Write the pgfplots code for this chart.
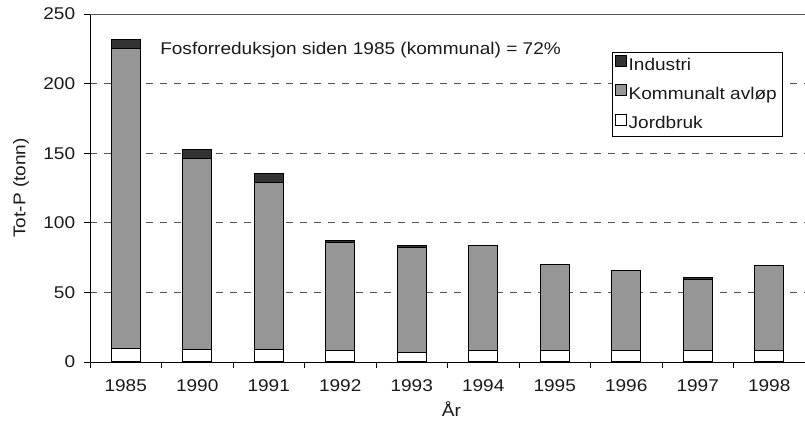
\documentclass[border=0pt]{standalone}
\usepackage{fontspec}
\setmainfont{Liberation Sans}[FakeStretch=1.12]
\usepackage{pgfplots}
\pgfplotsset{compat=1.18}
\definecolor{txt}{HTML}{1A1A1A}
\definecolor{ind}{HTML}{333333}
\definecolor{kom}{HTML}{969696}
\definecolor{gridc}{HTML}{555555}
\begin{document}
\fontsize{17}{20}\selectfont
\begin{tikzpicture}[x=1pt,y=1pt]
\useasboundingbox (-90,-79) rectangle (715,362);
\begin{axis}[
  at={(0,0)}, anchor=south west,
  scale only axis, width=715pt, height=348pt,
  ybar stacked, bar width=0.41,
  xmin=-0.5, xmax=9.5, ymin=0, ymax=250,
  axis x line*=bottom, axis y line*=left,
  axis line style={line width=0.8pt, color=black},
  xtick={0,...,9},
  xticklabels={1985,1990,1991,1992,1993,1994,1995,1996,1997,1998},
  major x tick style={draw=none},
  minor xtick={-0.5,0.5,...,9.5},
  minor tick length=6pt,
  minor x tick style={line width=0.8pt, black},
  ytick={0,50,...,250},
  major tick length=6pt,
  y tick style={line width=0.8pt, black},
  tick align=outside,
  ymajorgrids,
  major grid style={dashed, dash pattern=on 7pt off 7pt, gridc, line width=0.8pt},
  /pgf/number format/assume math mode=true,
  tick label style={font=\fontsize{17}{20}\selectfont, text=txt},
  xticklabel style={yshift=-6pt},
  yticklabel style={xshift=-3pt},
  every axis x label/.style={at={(axis description cs:0.5,0)}, anchor=center, yshift=-47pt, xshift=4pt, font=\fontsize{17}{20}\selectfont, text=txt},
  every axis y label/.style={at={(axis description cs:0,0.5)}, xshift=-69pt, anchor=center, rotate=90, font=\fontsize{17}{20}\selectfont, text=txt},
  xlabel={År},
  ylabel={Tot-P (tonn)},
  reverse legend,
  legend style={at={(rel axis cs:0.968,0.892)}, anchor=north east, draw=black, fill=white,
    font=\fontsize{17}{20}\selectfont, text=txt, row sep=9.5pt, inner xsep=3pt, inner ysep=3pt, line width=0.6pt,
    nodes={inner xsep=2pt}},
  legend cell align=left,
  legend image code/.code={\draw[#1, line width=0.8pt] (0pt,-1pt) rectangle (11pt,10pt);},
  every axis plot/.append style={draw=black, line width=1pt},
]
\addplot[fill=white] coordinates {(0,10) (1,9) (2,9) (3,8) (4,7) (5,8) (6,8) (7,8) (8,8) (9,8)};
\addplot[fill=kom] coordinates {(0,215) (1,137) (2,120) (3,78) (4,75.5) (5,76) (6,62) (7,58) (8,51.5) (9,61)};
\addplot[fill=ind] coordinates {(0,7) (1,7) (2,6.5) (3,1.5) (4,1.5) (5,0) (6,0) (7,0) (8,1.5) (9,0)};
\legend{Jordbruk,Kommunalt avløp,Industri}
\draw[gridc, line width=0.8pt] (rel axis cs:0,1) -- (rel axis cs:1,1);
\node[anchor=west, text=txt, font=\fontsize{17}{20}\selectfont, inner sep=0pt] at (rel axis cs:0.098,0.897) {Fosforreduksjon siden 1985 (kommunal) = 72\%};
\end{axis}
\end{tikzpicture}
\end{document}
